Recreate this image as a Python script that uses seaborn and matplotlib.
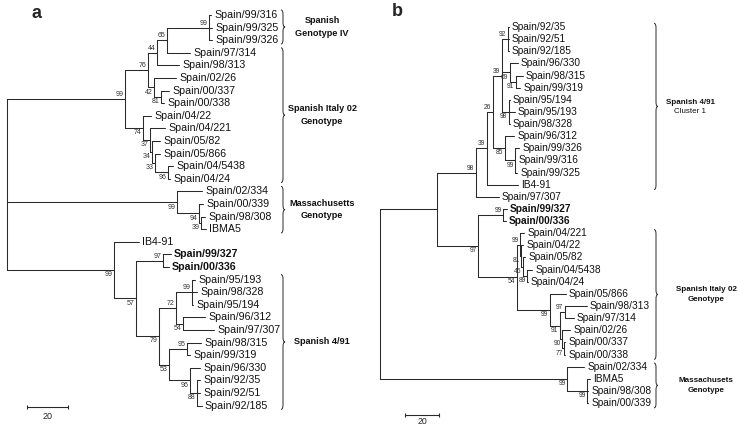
import pandas as pd
import matplotlib
matplotlib.use("Agg")
import matplotlib.pyplot as plt
from matplotlib.path import Path
from matplotlib.patches import PathPatch
import seaborn as sns

# Trees as Newick, branch lengths (scale bar = 20),
# internal labels = bootstrap values
tree_a = (
    "((((((Spain/99/316:1.0,Spain/99/325:1.5,Spain/99/326:1.5)99:20.5,"
    "Spain/97/314:11.2)65:4.9,Spain/98/313:10.7)44:4.4,"
    "(Spain/02/26:10.7,(Spain/00/337:3.9,Spain/00/338:1.5)81:3.4)42:2.9)76:11.2,"
    "(Spain/04/22:3.9,(Spain/04/221:7.3,(Spain/05/82:3.9,(Spain/05/866:2.4,"
    "(Spain/04/5438:2.4,Spain/04/24:1.0)96:6.3)33:1.5)34:1.0)37:3.4)74:8.8)99:57.6,"
    "(Spain/02/334:12.2,(Spain/00/339:2.0,(Spain/98/308:2.0,IBMA5:2.4)39:1.0)94:10.7)99:82.9,"
    "(IB4-91:12.2,((Spain/99/327:3.9,Spain/00/336:2.9)97:13.2,"
    "(((Spain/95/193:1.5,Spain/98/328:2.4,Spain/95/194:0.5)99:7.8,"
    "(Spain/96/312:10.7,Spain/97/307:15.1)54:3.4)72:8.3,"
    "((Spain/98/315:6.8,Spain/99/319:1.5)95:8.8,"
    "(Spain/96/330:4.9,(Spain/92/35:1.5,Spain/92/51:1.5,Spain/92/185:2.4)88:3.4)96:10.2)53:4.9)79:11.2)57:10.7)99:52.2);"
)

tree_b = (
    "(((((((Spain/92/35:0.6,Spain/92/51:0.6,Spain/92/185:0.6)92:3.5,"
    "(Spain/96/330:4.7,(Spain/98/315:4.1,Spain/99/319:2.4)91:3.5)69:4.7,"
    "(Spain/95/194:0.6,Spain/95/193:3.5,Spain/98/328:0.6)98:4.1)39:5.3,"
    "(Spain/96/312:5.3,(Spain/99/326:2.4,Spain/99/316:0.3,Spain/99/325:1.2)99:5.9)85:7.1)26:3.5,"
    "IB4-91:18.2)39:6.5,Spain/97/307:13.5)98:22.9,"
    "((Spain/99/327:2.4,Spain/00/336:1.8)99:14.7,"
    "((Spain/04/221:2.4,(Spain/04/22:0.9,(Spain/05/82:1.2,(Spain/04/5438:2.9,Spain/04/24:0.3)89:2.4)46:0.9)81:0.9)99:1.8,"
    "(Spain/05/866:9.4,((Spain/98/313:12.9,Spain/97/314:5.3)97:2.9,"
    "(Spain/02/26:4.7,(Spain/00/337:0.6,Spain/00/338:0.6)77:1.2)90:1.2)91:5.9)99:19.4)54:22.9)97:24.1):33.5,"
    "(Spain/02/334:10.0,(IBMA5:1.8,Spain/98/308:0.6,Spain/00/339:0.6)99:11.8)99:110.0);"
)

bold_leaves = ["Spain/99/327", "Spain/00/336"]

# clade brackets
clade_names_a = ["Spanish\nGenotype IV", "Spanish Italy 02\nGenotype", "Massachusetts\nGenotype", "Spanish 4/91"]
clade_first_a = ["Spain/99/316", "Spain/97/314", "Spain/02/334", "Spain/95/193"]
clade_last_a = ["Spain/99/326", "Spain/04/24", "IBMA5", "Spain/92/185"]

clade_names_b = ["Spanish 4/91", "Spanish Italy 02\nGenotype", "Massachusets\nGenotype"]
clade_sub_b = ["Cluster 1", "", ""]
clade_first_b = ["Spain/92/35", "Spain/04/221", "Spain/02/334"]
clade_last_b = ["IB4-91", "Spain/00/338", "Spain/00/339"]

scale_len = 20

W, H = 738, 429
LINE = "#2a2a2a"

sns.set_theme(style="white")
plt.rcParams["font.family"] = ["Liberation Sans", "DejaVu Sans"]


def parse_newick(s):
    s = s.strip().rstrip(";")
    pos = 0

    def node():
        nonlocal pos
        children = []
        if s[pos] == "(":
            pos += 1
            while True:
                children.append(node())
                if s[pos] == ",":
                    pos += 1
                    continue
                pos += 1
                break
        start = pos
        while pos < len(s) and s[pos] not in ",():":
            pos += 1
        label = s[start:pos]
        length = 0.0
        if pos < len(s) and s[pos] == ":":
            pos += 1
            start = pos
            while pos < len(s) and s[pos] not in ",()":
                pos += 1
            length = float(s[start:pos])
        return {"label": label, "length": length, "children": children}

    return node()


def layout(tree):
    leaves = []

    def walk(n, x0):
        n["x"] = x0 + n["length"]
        for c in n["children"]:
            walk(c, n["x"])
        if n["children"]:
            n["y"] = (n["children"][0]["y"] + n["children"][-1]["y"]) / 2
        else:
            n["y"] = len(leaves)
            leaves.append(n)

    walk(tree, 0.0)
    return leaves


def segments(tree):
    rows = []
    k = 0

    def walk(n):
        nonlocal k
        if not n["children"]:
            return
        ys = [c["y"] for c in n["children"]]
        rows.extend([(k, n["x"], min(ys)), (k, n["x"], max(ys))])
        k += 1
        for c in n["children"]:
            rows.extend([(k, n["x"], c["y"]), (k, c["x"], c["y"])])
            k += 1
            walk(c)

    walk(tree)
    return pd.DataFrame(rows, columns=["seg", "x", "y"])


def brace(ax, x, y0, y1, w, r):
    ym = (y0 + y1) / 2
    verts = [(x, y0), (x + w, y0), (x + w, y0 + r),
             (x + w, ym - r), (x + w, ym), (x + 2 * w, ym),
             (x + w, ym), (x + w, ym + r),
             (x + w, y1 - r), (x + w, y1), (x, y1)]
    codes = [Path.MOVETO, Path.CURVE3, Path.CURVE3,
             Path.LINETO, Path.CURVE3, Path.CURVE3,
             Path.CURVE3, Path.CURVE3,
             Path.LINETO, Path.CURVE3, Path.CURVE3]
    ax.add_patch(PathPatch(Path(verts, codes), fill=False, lw=0.7, color=LINE))


def draw_panel(tree_str, left_px, right_px, root_px, ppu, top_px, step_px,
               leaf_fs, boot_fs):
    ax = fig.add_axes([left_px / W, 0, (right_px - left_px) / W, 1])
    ax.set_xlim((left_px - root_px) / ppu, (right_px - root_px) / ppu)
    ax.set_ylim((H - top_px) / step_px, -top_px / step_px)
    ax.axis("off")

    tree = parse_newick(tree_str)
    leaves = layout(tree)
    seg = segments(tree)
    sns.lineplot(data=seg, x="x", y="y", units="seg", estimator=None, sort=False,
                 color=LINE, lw=0.75, ax=ax, legend=False)
    ax.axis("off")

    for lf in leaves:
        ax.annotate(lf["label"], (lf["x"], lf["y"]), xytext=(2.3, 0),
                    textcoords="offset points", ha="left", va="center",
                    fontsize=leaf_fs, color="#111111",
                    fontweight="bold" if lf["label"] in bold_leaves else "normal")

    def boots(n):
        for i, c in enumerate(n["children"]):
            if c["children"] and c["label"]:
                upper = i == 0
                ax.annotate(c["label"], (c["x"], c["y"]),
                            xytext=(-1.0, 0.6 if upper else -0.8),
                            textcoords="offset points", ha="right",
                            va="bottom" if upper else "top",
                            fontsize=boot_fs, color="#333333")
            boots(c)

    boots(tree)
    return ax, {lf["label"]: lf["y"] for lf in leaves}


fig = plt.figure(figsize=(W / 100, H / 100), dpi=100)

# panel a
ppu_a = 2.05
ax_a, ya = draw_panel(tree_a, 0, 370, 7, ppu_a, 15, 12.6, 7.7, 5.0)
brace_x_a = (281 - 7) / ppu_a
for name, f, l in zip(clade_names_a, clade_first_a, clade_last_a):
    y0, y1 = ya[f] - 0.4, ya[l] + 0.3
    brace(ax_a, brace_x_a, y0, y1, 2.0 / ppu_a, 0.35)
    ax_a.text((322 - 7) / ppu_a, (y0 + y1) / 2, name, ha="center", va="center",
              fontsize=6.6, fontweight="bold", linespacing=1.5, color="#111111")
sx = (27 - 7) / ppu_a
sy = (407 - 15) / 12.6
ax_a.plot([sx, sx + scale_len], [sy, sy], color=LINE, lw=0.8)
ax_a.plot([sx, sx + scale_len], [sy, sy], ls="none", marker="|", ms=3.5, color=LINE, mew=0.8)
ax_a.text(sx + scale_len / 2, sy + 0.4, str(scale_len), ha="center", va="top", fontsize=6.5)

# panel b
ppu_b = 1.7
ax_b, yb = draw_panel(tree_b, 370, 738, 380, ppu_b, 27, 12.13, 7.3, 4.8)
brace_x_b = (654 - 380) / ppu_b
label_x_b = [690, 706, 706]
for name, sub, f, l, lx in zip(clade_names_b, clade_sub_b, clade_first_b, clade_last_b, label_x_b):
    y0, y1 = yb[f] - 0.3, yb[l] + 0.4
    ym = (y0 + y1) / 2
    brace(ax_b, brace_x_b, y0, y1, 2.0 / ppu_b, 0.35)
    xc = (lx - 380) / ppu_b
    if sub:
        ax_b.text(xc, ym, name, ha="center", va="bottom", fontsize=5.8,
                  fontweight="bold", color="#111111")
        ax_b.text(xc, ym + 0.15, sub, ha="center", va="top", fontsize=5.8, color="#111111")
    else:
        ax_b.text(xc, ym, name, ha="center", va="center", fontsize=5.8,
                  fontweight="bold", linespacing=1.5, color="#111111")
sx = (405 - 380) / ppu_b
sy = (415 - 27) / 12.13
ax_b.plot([sx, sx + scale_len], [sy, sy], color=LINE, lw=0.8)
ax_b.plot([sx, sx + scale_len], [sy, sy], ls="none", marker="|", ms=3.5, color=LINE, mew=0.8)
ax_b.text(sx + scale_len / 2, sy + 0.2, str(scale_len), ha="center", va="top", fontsize=6.3)

fig.text(37 / W, 1 - 13 / H, "a", ha="center", va="center", fontsize=13, fontweight="bold")
fig.text(397 / W, 1 - 12 / H, "b", ha="center", va="center", fontsize=13, fontweight="bold")

fig.savefig("out.png", dpi=100)
